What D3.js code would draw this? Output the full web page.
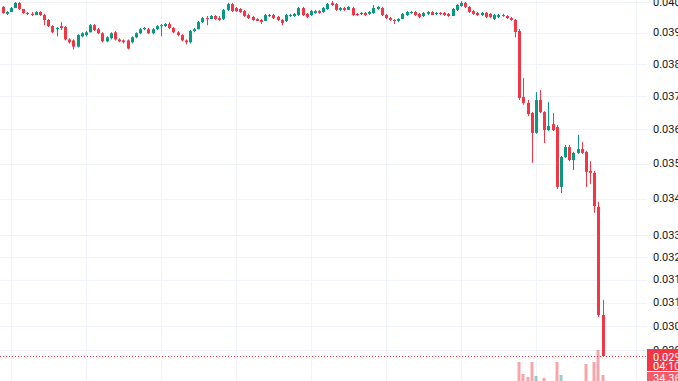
<!DOCTYPE html>
<html>
<head>
<meta charset="utf-8">
<script src="https://cdn.jsdelivr.net/npm/d3@7"></script>
<style>
  body { margin: 0; background: #ffffff; overflow: hidden; }
  svg { display: block; }
</style>
</head>
<body>
<svg id="chart" width="678" height="381"></svg>
<script>
// OHLC, one entry per bar (145 bars)
var opens = [
  .03984,.03961,.03967,.03980,.03997,.03977,.03964,.03961,.03957,.03967,
  .03957,.03941,.03921,.03911,.03921,.03918,.03878,.03875,.03855,.03888,
  .03892,.03901,.03924,.03911,.03898,.03872,.03882,.03901,.03878,.03875,
  .03875,.03869,.03885,.03898,.03911,.03911,.03898,.03911,.03921,.03921,
  .03928,.03915,.03901,.03892,.03875,.03869,.03905,.03911,.03934,.03947,
  .03944,.03954,.03947,.03944,.03974,.03993,.03980,.03977,.03970,.03957,
  .03951,.03944,.03941,.03938,.03954,.03957,.03951,.03941,.03938,.03954,
  .03954,.03957,.03980,.03961,.03957,.03964,.03970,.03967,.03977,.03997,
  .03993,.03974,.03980,.03974,.03980,.03961,.03961,.03964,.03961,.03964,
  .03977,.03980,.03957,.03947,.03941,.03938,.03944,.03957,.03964,.03967,
  .03961,.03954,.03961,.03967,.03961,.03964,.03964,.03961,.03954,.03974,
  .03987,.03997,.03984,.03970,.03964,.03957,.03964,.03961,.03944,.03951,
  .03957,.03954,.03947,.03941,.03905,.03698,.03680,.03649,.03590,.03689,
  .03652,.03598,.03616,.03607,.03433,.03519,.03548,.03510,.03531,.03542,
  .03534,.03479,.03473,.03377,.03088
];
var highs = [
  .03987,.03970,.03984,.04000,.04000,.03977,.03967,.03967,.03970,.03970,
  .03961,.03944,.03924,.03918,.03934,.03921,.03882,.03878,.03895,.03901,
  .03905,.03928,.03928,.03915,.03901,.03888,.03901,.03905,.03882,.03878,
  .03878,.03888,.03901,.03915,.03918,.03915,.03915,.03924,.03928,.03931,
  .03934,.03918,.03905,.03895,.03878,.03908,.03915,.03938,.03951,.03954,
  .03957,.03957,.03954,.03977,.03997,.03997,.03984,.03980,.03974,.03961,
  .03954,.03947,.03944,.03961,.03961,.03961,.03954,.03944,.03961,.03961,
  .03964,.03984,.03984,.03964,.03974,.03974,.03974,.03984,.03997,.04003,
  .03997,.03984,.03984,.03987,.03984,.03964,.03967,.03967,.03970,.03990,
  .03987,.03984,.03961,.03951,.03944,.03947,.03964,.03970,.03970,.03970,
  .03964,.03967,.03970,.03970,.03967,.03967,.03967,.03964,.03980,.03993,
  .04003,.04000,.03987,.03974,.03967,.03967,.03967,.03964,.03961,.03961,
  .03961,.03957,.03951,.03944,.03912,.03756,.03689,.03652,.03713,.03719,
  .03655,.03683,.03649,.03613,.03522,.03554,.03554,.03534,.03584,.03563,
  .03537,.03507,.03479,.03391,.03127
];
var lows = [
  .03961,.03957,.03967,.03980,.03974,.03961,.03957,.03954,.03957,.03954,
  .03924,.03918,.03898,.03888,.03908,.03875,.03865,.03846,.03852,.03885,
  .03888,.03901,.03905,.03895,.03869,.03869,.03878,.03875,.03869,.03865,
  .03846,.03865,.03882,.03895,.03908,.03895,.03895,.03908,.03888,.03918,
  .03911,.03898,.03888,.03872,.03862,.03865,.03901,.03911,.03931,.03924,
  .03944,.03941,.03938,.03941,.03970,.03967,.03967,.03964,.03951,.03944,
  .03938,.03938,.03928,.03938,.03951,.03944,.03938,.03924,.03934,.03951,
  .03951,.03954,.03954,.03947,.03954,.03961,.03961,.03964,.03974,.03987,
  .03970,.03970,.03970,.03974,.03954,.03954,.03957,.03954,.03957,.03961,
  .03974,.03954,.03944,.03938,.03928,.03934,.03944,.03954,.03961,.03954,
  .03947,.03951,.03957,.03957,.03957,.03957,.03954,.03951,.03954,.03970,
  .03984,.03980,.03964,.03957,.03954,.03954,.03947,.03947,.03941,.03947,
  .03951,.03944,.03938,.03885,.03689,.03674,.03640,.03502,.03587,.03649,
  .03560,.03595,.03595,.03427,.03416,.03516,.03507,.03481,.03528,.03528,
  .03433,.03441,.03360,.03083,.02983
];
var closes = [
  .03964,.03967,.03980,.03997,.03977,.03964,.03961,.03957,.03967,.03957,
  .03941,.03921,.03901,.03915,.03915,.03878,.03869,.03855,.03892,.03898,
  .03901,.03924,.03908,.03898,.03872,.03885,.03898,.03878,.03872,.03869,
  .03849,.03885,.03898,.03911,.03915,.03898,.03911,.03921,.03924,.03928,
  .03915,.03901,.03892,.03875,.03869,.03905,.03911,.03934,.03947,.03944,
  .03954,.03944,.03941,.03974,.03993,.03970,.03970,.03967,.03954,.03947,
  .03941,.03938,.03934,.03957,.03957,.03947,.03941,.03931,.03957,.03957,
  .03961,.03980,.03957,.03951,.03970,.03970,.03964,.03980,.03993,.03990,
  .03974,.03980,.03974,.03984,.03957,.03957,.03964,.03957,.03967,.03980,
  .03984,.03957,.03947,.03941,.03938,.03944,.03961,.03967,.03967,.03957,
  .03951,.03964,.03967,.03957,.03964,.03961,.03957,.03954,.03977,.03990,
  .03997,.03984,.03967,.03961,.03957,.03964,.03951,.03951,.03957,.03957,
  .03954,.03947,.03941,.03902,.03695,.03680,.03646,.03590,.03689,.03652,
  .03598,.03610,.03598,.03433,.03519,.03548,.03510,.03531,.03542,.03531,
  .03476,.03473,.03379,.03088,.02985
];
// volume (only the tallest bars reach into the visible strip)
var volumes = [
  14,10,12,16,15,11,9,8,10,9,
  15,17,18,12,13,22,14,19,20,10,
  9,15,12,11,17,12,13,15,10,9,
  18,14,12,13,8,10,11,12,13,9,
  12,11,12,15,13,18,10,16,14,12,
  11,10,9,17,18,15,11,10,13,11,
  10,9,11,16,9,10,11,12,15,9,
  10,16,14,11,12,9,10,13,15,12,
  14,10,9,10,14,9,8,9,10,13,
  9,14,13,11,12,10,13,12,9,11,
  10,11,10,9,8,9,10,9,16,15,
  14,12,13,11,10,9,12,11,12,10,
  9,11,12,24,58,46,43,58,44,36,
  42,30,32,58,45,28,34,30,33,30,
  56,36,58,70,45
];
var priceTicks = [0.0400, 0.0390, 0.0380, 0.0370, 0.0360, 0.0350, 0.0340, 0.0330,
                  0.0324, 0.0318, 0.0312, 0.0306, 0.0300];
var timeGrid = [2, 20, 38, 56, 74, 92, 110, 128, 152];   // bar index of each vertical grid line
var lastPriceText = "0.0298";
var countdownText = "04:10";
var volumeText = "34.36K";

var width = 678, height = 381;
var plotRight = 647;
var upColor = "#089981", downColor = "#F23645";
var font = "'Trebuchet MS', Roboto, 'Liberation Sans', sans-serif";

var svg = d3.select("#chart");

var x = d3.scaleLinear().domain([0, closes.length - 1]).range([2.5, 602.5]);
var y = d3.scaleLog().domain([0.0300, 0.0400]).range([350, 2]);
var yVol = d3.scaleLinear().domain([0, 100]).range([420, 320]);

// grid
svg.append("g").selectAll("line")
  .data(priceTicks).enter().append("line")
  .attr("x1", 0).attr("x2", plotRight)
  .attr("y1", function (d) { return Math.round(y(d)) + 0.5; })
  .attr("y2", function (d) { return Math.round(y(d)) + 0.5; })
  .attr("stroke", "#f0f3fa");

svg.append("g").selectAll("line")
  .data(timeGrid).enter().append("line")
  .attr("x1", function (d) { return Math.round(x(d)) + 0.5; })
  .attr("x2", function (d) { return Math.round(x(d)) + 0.5; })
  .attr("y1", 0).attr("y2", height)
  .attr("stroke", "#f0f3fa");

var bars = d3.range(closes.length);

// volume
svg.append("g").selectAll("rect")
  .data(bars).enter().append("rect")
  .attr("x", function (i) { return Math.round(x(i)) - 1.5; })
  .attr("width", 3)
  .attr("y", function (i) { return yVol(volumes[i]); })
  .attr("height", function (i) { return yVol(0) - yVol(volumes[i]); })
  .attr("fill", function (i) { return closes[i] >= opens[i] ? upColor : downColor; })
  .attr("opacity", 0.45);

// last price line
var yLast = Math.round(y(closes[closes.length - 1])) + 0.5;
svg.append("line")
  .attr("x1", 0).attr("x2", plotRight)
  .attr("y1", yLast).attr("y2", yLast)
  .attr("stroke", downColor).attr("stroke-width", 1)
  .attr("stroke-dasharray", "1,2");

// candles
var candle = svg.append("g").selectAll("g")
  .data(bars).enter().append("g")
  .attr("fill", function (i) { return closes[i] >= opens[i] ? upColor : downColor; })
  .attr("stroke", function (i) { return closes[i] >= opens[i] ? upColor : downColor; });

candle.append("line")
  .attr("x1", function (i) { return Math.round(x(i)) + 0.5; })
  .attr("x2", function (i) { return Math.round(x(i)) + 0.5; })
  .attr("y1", function (i) { return y(highs[i]); })
  .attr("y2", function (i) { return y(lows[i]); })
  .attr("stroke-width", 1);

candle.append("rect")
  .attr("stroke", "none")
  .attr("x", function (i) { return Math.round(x(i)) - 1; })
  .attr("width", 3)
  .attr("y", function (i) { return y(Math.max(opens[i], closes[i])); })
  .attr("height", function (i) {
    return Math.max(1, Math.abs(y(opens[i]) - y(closes[i])));
  });

// price scale labels
svg.append("g").selectAll("text")
  .data(priceTicks).enter().append("text")
  .attr("x", 653)
  .attr("y", function (d) { return y(d); })
  .attr("dy", "0.35em")
  .attr("font-family", font)
  .attr("font-size", 11)
  .attr("fill", "#131722")
  .text(function (d) { return d.toFixed(4); });

// last price tag
svg.append("rect")
  .attr("x", 647).attr("y", 349).attr("width", 40).attr("height", 22)
  .attr("fill", downColor);
svg.append("text")
  .attr("x", 653).attr("y", 357).attr("dy", "0.35em")
  .attr("font-family", font).attr("font-size", 11).attr("fill", "#ffffff")
  .text(lastPriceText);
svg.append("text")
  .attr("x", 653).attr("y", 366.5).attr("dy", "0.35em")
  .attr("font-family", font).attr("font-size", 11).attr("fill", "#ffffff")
  .text(countdownText);
svg.append("rect")
  .attr("x", 647).attr("y", 372).attr("width", 40).attr("height", 14)
  .attr("fill", "#f45b67");
svg.append("text")
  .attr("x", 653).attr("y", 378).attr("dy", "0.35em")
  .attr("font-family", font).attr("font-size", 11).attr("fill", "#ffffff")
  .text(volumeText);
</script>
</body>
</html>
